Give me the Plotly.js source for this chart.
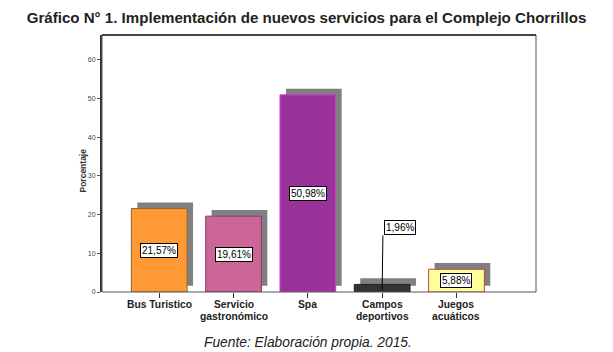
<!DOCTYPE html>
<html><head><meta charset="utf-8">
<script src="https://cdn.plot.ly/plotly-3.0.1.min.js"></script>
<style>html,body{margin:0;padding:0;background:#fff}#chart{width:613px;height:352px}</style>
</head><body><div id="chart"></div>
<script>
const categories = ['Bus Turistico', 'Servicio<br>gastronómico', 'Spa', 'Campos<br>deportivos', 'Juegos<br>acuáticos'];
const values = [21.57, 19.61, 50.98, 1.96, 5.88];
const labels = ['21,57%', '19,61%', '50,98%', '1,96%', '5,88%'];
const barColors = ['#FF9933', '#CC6699', '#993399', '#333333', '#FFFF99'];
const borderColors = ['#8a6a30', '#8c3a66', '#d040d0', '#222222', '#c04040'];
const yTicks = [0, 10, 20, 30, 40, 50, 60];

const W = 0.75;
const shadowBase = 1.6;
const shadowShift = 0.08;
const calloutLift = 12.7;
const FONT = 'Arial, Liberation Sans, sans-serif';

const shadow = {
  type: 'bar', x: categories, y: values, base: values.map(() => shadowBase),
  width: W, offset: -W/2 + shadowShift,
  marker: {color: '#808080', line: {width: 0}},
  hoverinfo: 'skip', showlegend: false
};
const bars = {
  type: 'bar', x: categories, y: values,
  width: W, offset: -W/2,
  marker: {color: barColors, line: {color: borderColors, width: 1}},
  showlegend: false
};

const shapes = [
  {type: 'rect', xref: 'paper', yref: 'paper', x0: 0, x1: 1, y0: 0, y1: 1,
   line: {color: '#555', width: 1}, layer: 'above'},
  {type: 'line', xref: 'paper', yref: 'paper', x0: 0, x1: 1, y0: 1, y1: 1,
   line: {color: '#222', width: 1.5}, layer: 'above'}
];

const annotations = values.map((v, i) => {
  const a = {
    x: categories[i], y: v / 2, xref: 'x', yref: 'y',
    text: labels[i], showarrow: false,
    font: {family: FONT, size: 10, color: '#000'},
    bgcolor: '#ffffff', bordercolor: '#000000', borderwidth: 1, borderpad: 1
  };
  if (v < 5) {
    a.y = v + calloutLift; a.yanchor = 'bottom'; a.xanchor = 'left'; a.xshift = 2;
    shapes.push({type: 'line', xref: 'x', yref: 'y', x0: i + 0.01, x1: i, y0: v + calloutLift, y1: 0.6,
                 line: {color: '#000', width: 1}, layer: 'above'});
  }
  return a;
});

// category tick labels, one annotation per line for tight line spacing
categories.forEach((c, i) => {
  c.split('<br>').forEach((line, k) => {
    annotations.push({
      x: categories[i], xref: 'x', y: 0, yref: 'paper', yanchor: 'top',
      yshift: -5 - 12 * k, text: '<b>' + line + '</b>', showarrow: false,
      font: {family: FONT, size: 10.3, color: '#222'}
    });
  });
});

annotations.push({
  xref: 'paper', yref: 'paper', x: 0, y: 0.5, xanchor: 'center', yanchor: 'middle',
  xshift: -20, yshift: -7,
  text: '<b>Porcentaje</b>', textangle: -90, showarrow: false,
  font: {family: FONT, size: 8.5, color: '#333'}
});

annotations.push({
  xref: 'paper', yref: 'paper', x: 0.474, y: -0.16, xanchor: 'center', yanchor: 'top',
  text: '<i>Fuente: Elaboración propia. 2015.</i>', showarrow: false,
  font: {family: FONT, size: 13.8, color: '#222'}
});

const layout = {
  width: 613, height: 352,
  margin: {l: 102, r: 77, t: 35, b: 60},
  paper_bgcolor: '#fff', plot_bgcolor: '#fff',
  barmode: 'overlay', bargap: 0.25,
  title: {text: '<b>Gráfico N° 1. Implementación de nuevos servicios para el Complejo Chorrillos</b>',
          x: 0.5, xref: 'container', xanchor: 'center', y: 0.95, yref: 'container', yanchor: 'middle',
          font: {family: FONT, size: 15.1, color: '#222'}},
  xaxis: {
    type: 'category', range: [-0.77, 5.07], showgrid: false, zeroline: false,
    showline: false, ticks: 'outside', ticklen: 5, tickcolor: '#333',
    showticklabels: false, fixedrange: true
  },
  yaxis: {
    range: [0, 66.45], tickvals: yTicks, ticktext: yTicks.map(String),
    showgrid: false, zeroline: false, showline: true, linecolor: '#333', linewidth: 2,
    ticks: 'outside', ticklen: 3, tickcolor: '#555',
    tickfont: {family: FONT, size: 7, color: '#444'},
    fixedrange: true
  },
  shapes: shapes,
  annotations: annotations
};

Plotly.newPlot('chart', [shadow, bars], layout, {staticPlot: true, displayModeBar: false});
</script></body></html>
